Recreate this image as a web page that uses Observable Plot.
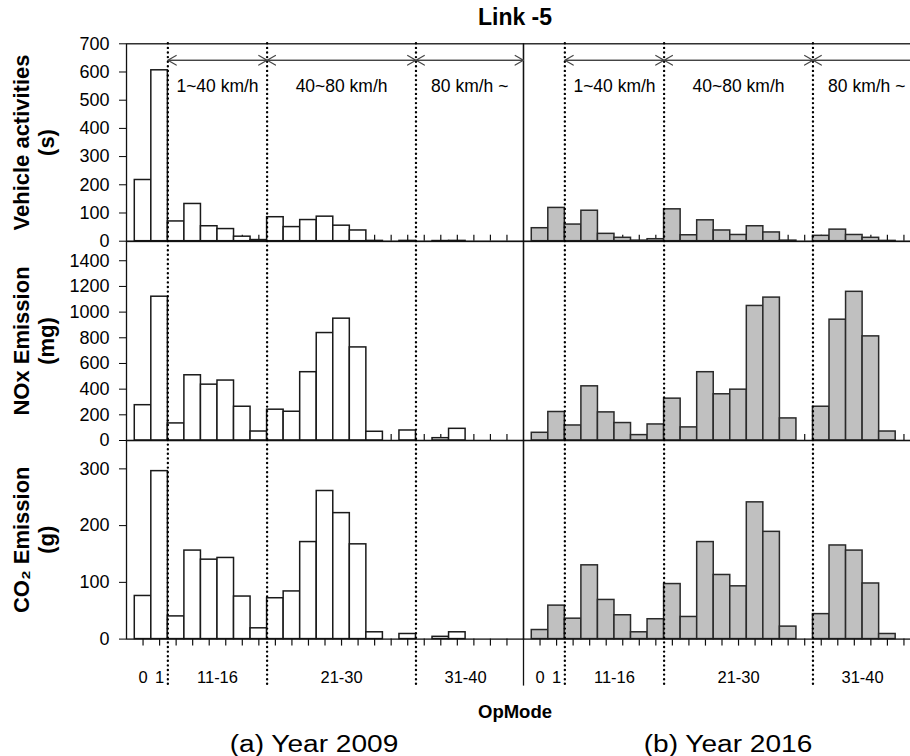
<!DOCTYPE html>
<html><head><meta charset="utf-8">
<script src="https://cdn.jsdelivr.net/npm/d3@7"></script>
<script src="https://cdn.jsdelivr.net/npm/@observablehq/plot@0.6"></script>
<style>
body{margin:0;background:#fff;}
#chart{position:relative;width:910px;height:756px;overflow:hidden;font-family:"Liberation Sans",Arial,sans-serif;color:#000;}
.abs{position:absolute;white-space:nowrap;}
</style></head><body><div id="chart"></div>
<script>
// ---- data ----
const opModes = ["0","1","11","12","13","14","15","16","21","22","23","24","25","27","28","29","30","33","35","37","38","39","40"];
const years = [2009, 2016];
const veh2009 = [217, 606, 70, 132, 53, 43, 16, 4, 85, 50, 75, 87, 55, 38, 1, 0, 1, 0, 0.5, 1, 0, 0, 0];
const veh2016 = [46, 118, 59, 108, 26, 12, 2, 7, 113, 21, 74, 38, 22, 53, 31, 2, 0, 19, 41, 22, 12, 1, 0];
const nox2009 = [275, 1120, 133, 508, 435, 467, 263, 70, 240, 224, 532, 837, 949, 725, 68, 0, 78, 0, 18, 91, 0, 0, 0];
const nox2016 = [60, 222, 117, 422, 219, 136, 42, 125, 326, 102, 532, 360, 396, 1048, 1113, 172, 0, 263, 941, 1158, 811, 70, 0];
const co22009 = [76, 296, 40, 156, 140, 143, 75, 19, 72, 84, 171, 261, 222, 167, 12, 0, 9, 0, 4, 12, 0, 0, 0];
const co22016 = [16, 59, 36, 130, 69, 42, 12, 35, 97, 39, 171, 113, 93, 241, 189, 22, 0, 44, 165, 156, 98, 9, 0];
const yTicksVeh = [0, 100, 200, 300, 400, 500, 600, 700];
const yTicksNox = [0, 200, 400, 600, 800, 1000, 1200, 1400];
const yTicksCo2 = [0, 100, 200, 300];
const axisLabels = ["0", "1", "11-16", "21-30", "31-40"];
const axisFirst  = ["0", "1", "11", "21", "33"];
const axisLast   = ["0", "1", "16", "30", "40"];
const boundaryAfter = ["1", "16", "30"];
const speedLabels = ["1~40 km/h", "40~80 km/h", "80 km/h ~"];
const rowTitles = ["Vehicle activities\n(s)", "NOx Emission\n(mg)", "CO\u2082 Emission\n(g)"];

// ---- derived helpers ----
const idx = m => opModes.indexOf(m);
const nIdx = opModes.map((m, i) => i);
const xMin = -1, xMax = opModes.length;
const boundaries = boundaryAfter.map(m => idx(m) + 0.5);
const rangeEnds = boundaries.map((b, k) => [b, k + 1 < boundaries.length ? boundaries[k + 1] : xMax]);
const speedData = speedLabels.map((t, k) => ({t, x1: rangeEnds[k][0], x2: rangeEnds[k][1]}));
const catLabels = axisLabels.map((t, k) => ({t, x: (idx(axisFirst[k]) + idx(axisLast[k])) / 2}));

const FONT = '"Liberation Sans", Arial, sans-serif';
const W = 920, ML = 125.5;
const rows = [
  {a: veh2009, b: veh2016, yMax: 700, ticks: yTicksVeh, top: 0, mt: 43.3, ph: 197.4, mb: 14, title: rowTitles[0]},
  {a: nox2009, b: nox2016, yMax: 1550, ticks: yTicksNox, top: 220.7, mt: 20, ph: 199, mb: 14, title: rowTitles[1]},
  {a: co22009, b: co22016, yMax: 350, ticks: yTicksCo2, top: 419.7, mt: 20, ph: 198.6, mb: 62, title: rowTitles[2]}
];

const chart = document.getElementById("chart");

rows.forEach((r, ri) => {
  const isTop = ri === 0, isBottom = ri === rows.length - 1;
  const data = opModes.flatMap((m, i) => [
    {year: 2009, mode: m, i, v: r.a[i]},
    {year: 2016, mode: m, i, v: r.b[i]}
  ]).filter(d => d.v > 0);
  const marks = [];
  if (!isBottom) {
    marks.push(Plot.ruleX(nIdx, {x: d => d, insetTop: r.ph - 6, stroke: "#111", strokeWidth: 1.2}));
  } else {
    marks.push(Plot.ruleX(nIdx, {x: d => d, insetTop: r.ph, insetBottom: -7, stroke: "#111", strokeWidth: 1.2}));
  }
  marks.push(Plot.rectY(data.filter(d => d.year === 2009), {fx: "year", x1: d => d.i - 0.5, x2: d => d.i + 0.5, y1: 0, y2: "v", fill: "white", stroke: "#1a1a1a", strokeWidth: 1.5}));
  marks.push(Plot.rectY(data.filter(d => d.year === 2016), {fx: "year", x1: d => d.i - 0.5, x2: d => d.i + 0.5, y1: 0, y2: "v", fill: "#c0c0c0", stroke: "#2a2a2a", strokeWidth: 1.5}));
  marks.push(Plot.frame({stroke: "#111", strokeWidth: 1.3}));
  marks.push(Plot.ruleX(boundaries, {x: d => d, stroke: "#000", strokeWidth: 2.4, strokeDasharray: "0 4.6", strokeLinecap: "round", insetBottom: isBottom ? -48 : 0}));
  if (isBottom) {
    marks.push(Plot.ruleX([{year: 2016}], {fx: "year", x: xMin, insetTop: r.ph, insetBottom: -47, stroke: "#111", strokeWidth: 1.3}));
    marks.push(Plot.text(catLabels, {x: "x", text: "t", frameAnchor: "bottom", dy: 39, lineAnchor: "middle", fontSize: 16.5, fill: "#000"}));
  }
  if (isTop) {
    const ay = r.yMax * (1 - 16.5 / r.ph);
    marks.push(Plot.arrow(speedData, {x1: "x1", x2: "x2", y1: ay, y2: ay, stroke: "#444", strokeWidth: 1.2, headLength: 12, headAngle: 60}));
    marks.push(Plot.arrow(speedData, {x1: "x2", x2: "x1", y1: ay, y2: ay, stroke: "#444", strokeWidth: 1.2, headLength: 12, headAngle: 60}));
    marks.push(Plot.text(speedData, {x: d => (d.x1 + d.x2) / 2, text: "t", frameAnchor: "top", dy: 43, lineAnchor: "middle", fontSize: 17.5, fill: "#000"}));
  }
  marks.push(Plot.text([{year: 2009, t: r.title}], {fx: "year", text: "t", frameAnchor: "left", rotate: -90, dx: -93, textAnchor: "middle", lineAnchor: "middle", lineHeight: 1.16, fontSize: 22, fontWeight: "bold", fill: "#000"}));

  const svg = Plot.plot({
    width: W,
    height: r.mt + r.ph + r.mb,
    marginLeft: ML, marginRight: 0, marginTop: r.mt, marginBottom: r.mb,
    fx: {domain: years, padding: 0, axis: null, label: null},
    x: {domain: [xMin, xMax], axis: null},
    y: {domain: [0, r.yMax], ticks: r.ticks, tickSize: 7, tickPadding: 10, label: null, tickFormat: d => String(d)},
    style: `background: transparent; overflow: visible; max-width: none; font-family: ${FONT}; font-size: 18px; color: #000;`,
    marks
  });
  const wrap = document.createElement("div");
  wrap.className = "abs";
  wrap.style.left = "0px";
  wrap.style.top = r.top + "px";
  wrap.appendChild(svg);
  chart.appendChild(wrap);
});

function addText(txt, cx, cy, size, weight, w, sx) {
  const d = document.createElement("div");
  d.className = "abs";
  d.textContent = txt;
  d.style.left = (cx - w / 2) + "px";
  d.style.width = w + "px";
  d.style.textAlign = "center";
  d.style.top = (cy - size * 0.55) + "px";
  d.style.lineHeight = (size * 1.1) + "px";
  d.style.fontSize = size + "px";
  d.style.fontWeight = weight;
  if (sx) d.style.transform = `scaleX(${sx})`;
  chart.appendChild(d);
}
addText("Link -5", 515, 18, 23, "bold", 200);
addText("OpMode", 515, 712, 18.5, "bold", 200);
addText("(a) Year 2009", 314, 745, 23, "normal", 260, 1.22);
addText("(b) Year 2016", 728, 745, 23, "normal", 260, 1.22);
</script></body></html>
